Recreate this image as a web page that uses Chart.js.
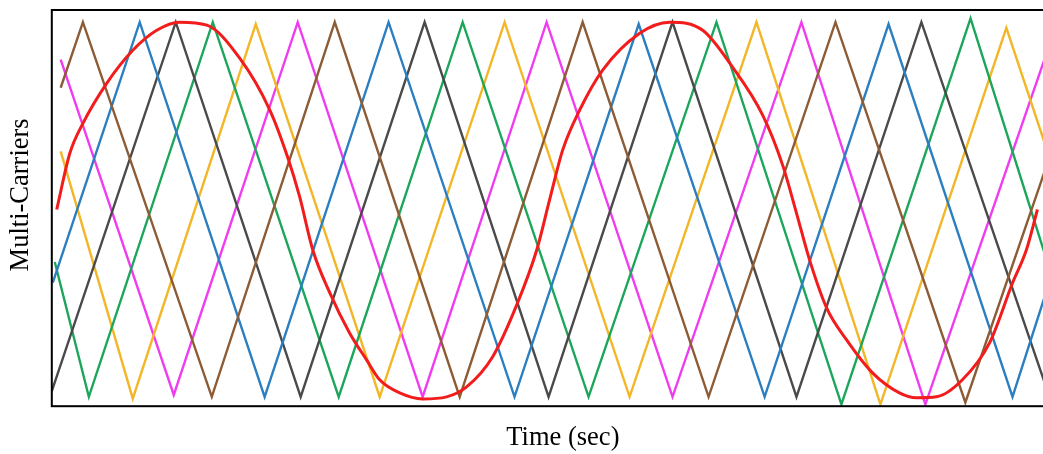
<!DOCTYPE html>
<html><head><meta charset="utf-8">
<script src="https://cdn.jsdelivr.net/npm/chart.js@4"></script>
<style>html,body{margin:0;padding:0;overflow:hidden;background:#fff}#wrap{width:1090px;height:454px;position:relative}</style>
</head><body><div id="wrap"><canvas id="c"></canvas></div>
<script>
// time in ms, values normalised (carrier peak = +1, valley = -1)
const brownT   = [0.36, 1.26, 6.48, 11.46, 16.52, 21.50, 26.60, 31.74, 37.00, 40.20];
const brownV   = [0.65, 1, -1, 1, -1, 1, -1, 1, -1.03, 0.20];
const blueT    = [0.04, 3.56, 8.62, 13.64, 18.74, 23.77, 28.87, 33.89, 38.91, 40.20];
const blueV    = [-0.39, 1, -1, 1, -1, 0.99, -1, 0.99, -1, -0.47];
const blackT   = [0, 5.02, 10.08, 15.10, 20.12, 25.14, 30.16, 35.22, 40.20];
const blackV   = [-0.97, 1, -1, 1, -1, 1, -1, 1, -0.92];
const greenT   = [0.12, 1.50, 6.52, 11.62, 16.64, 21.74, 26.92, 31.98, 37.21, 40.20];
const greenV   = [-0.28, -1, 1, -1, 1, -1, 1, -1.04, 1.02, -0.23];
const yellowT  = [0.36, 3.28, 8.26, 13.28, 18.34, 23.40, 28.54, 33.56, 38.66, 40.20];
const yellowV  = [0.31, -1.01, 0.99, -1, 1, -1, 1, -1.04, 0.97, 0.36];
const magentaT = [0.36, 4.94, 9.96, 15.02, 20.04, 25.14, 30.36, 35.38, 40.20];
const magentaV = [0.80, -0.99, 1, -1, 1, -1, 1, -1.04, 0.80];
const refT = [0.20, 0.73, 1.26, 2.23, 3.28, 4.25, 5.18, 6.28, 7.61, 8.83, 9.55, 10.04, 10.57, 11.26, 12.06, 12.75, 13.28, 14.09, 15.02, 15.99, 16.80, 17.85, 18.83, 19.64, 20.16, 20.69, 21.38, 22.31, 23.81, 25.02, 26.36, 27.57, 28.79, 29.60, 30.16, 30.69, 31.38, 32.19, 33.24, 34.33, 35.02, 35.83, 36.88, 37.98, 38.91, 39.47, 39.92];
const refV = [0.00, 0.30, 0.46, 0.675, 0.85, 0.957, 1.00, 0.984, 0.808, 0.531, 0.280, 0.067, -0.216, -0.445, -0.659, -0.803, -0.909, -0.979, -1.011, -1.00, -0.947, -0.787, -0.509, -0.216, 0.051, 0.317, 0.531, 0.744, 0.941, 1.00, 0.957, 0.760, 0.504, 0.237, -0.019, -0.269, -0.525, -0.696, -0.872, -0.979, -1.005, -1.00, -0.909, -0.712, -0.392, -0.216, 0.00];

const pts = (t, v) => t.map((x, i) => ({x: x, y: v[i]}));
const carrier = (label, t, v, color) => ({label, data: pts(t, v), borderColor: color, borderWidth: 2.4, pointRadius: 0, tension: 0, order: 1});

const frame = {
  id: 'frame',
  afterDraw(chart) {
    const {ctx, chartArea: a} = chart;
    ctx.save(); ctx.strokeStyle = '#000'; ctx.lineWidth = 2;
    ctx.strokeRect(a.left, a.top, a.right - a.left, a.bottom - a.top);
    ctx.restore();
  }
};

new Chart(document.getElementById('c'), {
  type: 'line',
  data: {
    datasets: [
      {label: 'Reference', data: pts(refT, refV), borderColor: '#f21c1c', borderWidth: 3, pointRadius: 0, cubicInterpolationMode: 'monotone', order: 0},
      carrier('Carrier 1', brownT, brownV, '#8d5b34'),
      carrier('Carrier 2', blueT, blueV, '#2b7fc1'),
      carrier('Carrier 3', blackT, blackV, '#4a4a4a'),
      carrier('Carrier 4', greenT, greenV, '#1ca65c'),
      carrier('Carrier 5', yellowT, yellowV, '#f2b626'),
      carrier('Carrier 6', magentaT, magentaV, '#f03cf0')
    ]
  },
  options: {
    responsive: true, maintainAspectRatio: false, animation: false,
    layout: {padding: {left: 0, right: 16, top: 10, bottom: 0}},
    plugins: {legend: {display: false}, tooltip: {enabled: false}},
    scales: {
      x: {type: 'linear', min: 0, max: 41.4,
          ticks: {display: false}, grid: {display: false, drawTicks: false}, border: {display: false},
          title: {display: true, text: 'Time (sec)', color: '#000', font: {family: 'Liberation Serif', size: 26.5}, padding: {top: 16, bottom: 0}}},
      y: {min: -1.05, max: 1.065,
          ticks: {display: false}, grid: {display: false, drawTicks: false}, border: {display: false},
          title: {display: true, text: '\u2003Multi-Carriers', color: '#000', font: {family: 'Liberation Serif', size: 26.5}, padding: {top: 5, bottom: 15}}}
    }
  },
  plugins: [frame]
});
</script></body></html>
